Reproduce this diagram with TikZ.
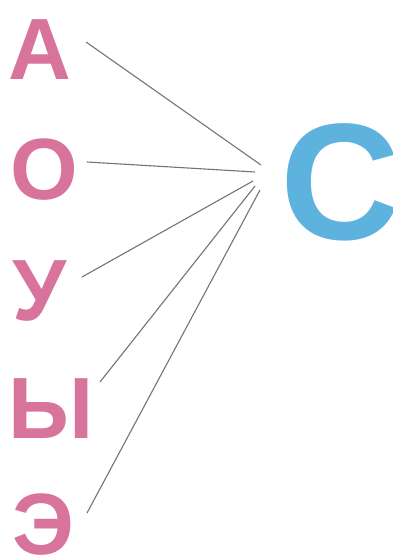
\documentclass[tikz,border=0pt]{standalone}
\usepackage{fontspec}
\setmainfont{Liberation Sans}
\definecolor{vowel}{HTML}{D8739C}
\definecolor{cons}{HTML}{5DB3DD}
\definecolor{linkgray}{HTML}{747474}
\tikzset{
  vowel/.style={font=\fontsize{87}{87}\selectfont\bfseries, text=vowel, inner sep=0pt, anchor=base},
  cons/.style={font=\fontsize{166}{166}\selectfont\bfseries, text=cons, inner sep=0pt, anchor=base west},
  link/.style={draw=linkgray, line width=1.1pt}
}
\begin{document}
\begin{tikzpicture}[x=1pt,y=-1pt]
\useasboundingbox (0,0) rectangle (392,556);
\fill[white] (0,0) rectangle (392,556);
\node[vowel] (A) at (40,80) {А};
\node[vowel] (O) at (44,199) {О};
\node[vowel] (U) at (40,320) {У};
\node[vowel] (Y) at (51,438) {Ы};
\node[vowel] (E) at (43,554) {Э};
\node[cons] (C) at (280,239) {С};
\coordinate (a1) at (86,42);
\coordinate (a2) at (261,165);
\coordinate (o1) at (87,162);
\coordinate (o2) at (255,172);
\coordinate (u1) at (82,277);
\coordinate (u2) at (253,181);
\coordinate (y1) at (100,382);
\coordinate (y2) at (255,186);
\coordinate (e1) at (87,513);
\coordinate (e2) at (260,190);
\draw[link] (a1) -- (a2);
\draw[link] (o1) -- (o2);
\draw[link] (u1) -- (u2);
\draw[link] (y1) -- (y2);
\draw[link] (e1) -- (e2);
\end{tikzpicture}
\end{document}
